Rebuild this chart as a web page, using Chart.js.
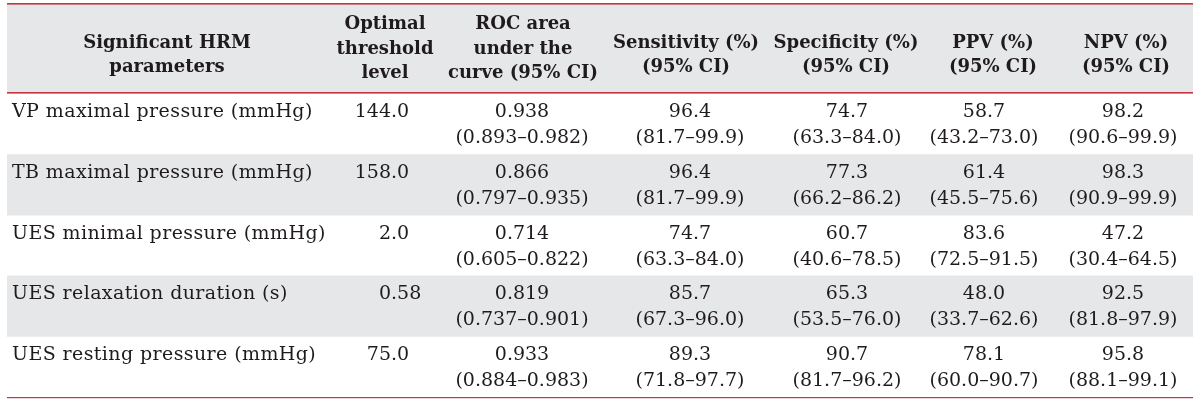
<!DOCTYPE html>
<html>
<head>
<meta charset="utf-8">
<title>Significant HRM parameters</title>
<script src="https://cdn.jsdelivr.net/npm/chart.js@4.4.1/dist/chart.umd.min.js"></script>
<style>
  html, body { margin: 0; padding: 0; background: #fff; }
  #wrap { width: 1200px; height: 403px; }
</style>
</head>
<body>
<div id="wrap"><canvas id="table-chart"></canvas></div>
<script>
// table data
const parameters = [
    'VP maximal pressure (mmHg)',
    'TB maximal pressure (mmHg)',
    'UES minimal pressure (mmHg)',
    'UES relaxation duration (s)',
    'UES resting pressure (mmHg)'
];
const thresholds = ['144.0', '158.0', '2.0', '0.58', '75.0'];
const rocArea = [0.938, 0.866, 0.714, 0.819, 0.933];
const rocCI = [[0.893, 0.982], [0.797, 0.935], [0.605, 0.822], [0.737, 0.901], [0.884, 0.983]];
const sensitivity = [96.4, 96.4, 74.7, 85.7, 89.3];
const sensitivityCI = [[81.7, 99.9], [81.7, 99.9], [63.3, 84.0], [67.3, 96.0], [71.8, 97.7]];
const specificity = [74.7, 77.3, 60.7, 65.3, 90.7];
const specificityCI = [[63.3, 84.0], [66.2, 86.2], [40.6, 78.5], [53.5, 76.0], [81.7, 96.2]];
const ppv = [58.7, 61.4, 83.6, 48.0, 78.1];
const ppvCI = [[43.2, 73.0], [45.5, 75.6], [72.5, 91.5], [33.7, 62.6], [60.0, 90.7]];
const npv = [98.2, 98.3, 47.2, 92.5, 95.8];
const npvCI = [[90.6, 99.9], [90.9, 99.9], [30.4, 64.5], [81.8, 97.9], [88.1, 99.1]];

const headers = [
    ['Significant HRM', 'parameters'],
    ['Optimal', 'threshold', 'level'],
    ['ROC area', 'under the', 'curve (95% CI)'],
    ['Sensitivity (%)', '(95% CI)'],
    ['Specificity (%)', '(95% CI)'],
    ['PPV (%)', '(95% CI)'],
    ['NPV (%)', '(95% CI)']
];

// layout (pixels along the x scale)
const TABLE_W = 1186;
const headX = [160, 378, 516, 679, 839, 986, 1119];
const cellX = [5, 384, 515, 683, 840, 977, 1116];
const RED = '#c4363d';
const GREY = '#e6e7e9';
const INK = '#1f1b1c';
const FONT = '"DejaVu Serif", "Liberation Serif", serif';

function ciText(ci, digits) {
    return '(' + ci[0].toFixed(digits) + '\u2013' + ci[1].toFixed(digits) + ')';
}

const tableText = {
    id: 'tableText',
    beforeDatasetsDraw(chart) {
        const ctx = chart.ctx;
        const x = chart.scales.x;
        const left = x.getPixelForValue(0), right = x.getPixelForValue(TABLE_W);
        ctx.save();
        ctx.fillStyle = GREY;
        ctx.fillRect(left, 4, right - left, 89);
        ctx.restore();
    },
    afterDatasetsDraw(chart) {
        const ctx = chart.ctx;
        const x = chart.scales.x, y = chart.scales.y;
        const left = x.getPixelForValue(0), right = x.getPixelForValue(TABLE_W);
        ctx.save();

        // rules
        ctx.fillStyle = RED;
        ctx.fillRect(left, 3, right - left, 1.6);
        ctx.fillRect(left, 92, right - left, 1.6);
        ctx.fillRect(left, 397, right - left, 1.2);

        // header
        ctx.fillStyle = INK;
        ctx.textAlign = 'center';
        ctx.textBaseline = 'alphabetic';
        ctx.font = 'bold 18px ' + FONT;
        headers.forEach((lines, c) => {
            const base = lines.length === 3 ? [29, 54, 78] : [48, 72];
            lines.forEach((t, k) => ctx.fillText(t, x.getPixelForValue(headX[c]), base[k]));
        });

        // body
        ctx.font = '19px ' + FONT;
        parameters.forEach((p, i) => {
            const cy = y.getPixelForValue(i);
            const b1 = cy - 7, b2 = cy + 19;

            ctx.textAlign = 'left';
            ctx.letterSpacing = '0.4px';
            ctx.fillText(p, x.getPixelForValue(cellX[0]), b1);
            ctx.letterSpacing = '0px';

            // threshold, aligned on the decimal point
            const parts = thresholds[i].split('.');
            const dx = x.getPixelForValue(cellX[1]);
            ctx.textAlign = 'right';
            ctx.fillText(parts[0], dx, b1);
            ctx.textAlign = 'left';
            ctx.fillText('.' + parts[1], dx, b1);

            ctx.textAlign = 'center';
            const cols = [
                [rocArea[i].toFixed(3), ciText(rocCI[i], 3)],
                [sensitivity[i].toFixed(1), ciText(sensitivityCI[i], 1)],
                [specificity[i].toFixed(1), ciText(specificityCI[i], 1)],
                [ppv[i].toFixed(1), ciText(ppvCI[i], 1)],
                [npv[i].toFixed(1), ciText(npvCI[i], 1)]
            ];
            cols.forEach((cell, k) => {
                const cx = x.getPixelForValue(cellX[k + 2]);
                ctx.fillText(cell[0], cx, b1);
                ctx.fillText(cell[1], cx, b2);
            });
        });
        ctx.restore();
    }
};

const ctx = document.getElementById('table-chart').getContext('2d');
new Chart(ctx, {
    type: 'bar',
    data: {
        labels: parameters,
        datasets: [{
            label: 'stripes',
            data: parameters.map((p, i) => (i % 2 === 1 ? [0, TABLE_W] : null)),
            backgroundColor: GREY,
            borderWidth: 0,
            barPercentage: 1,
            categoryPercentage: 1
        }]
    },
    options: {
        indexAxis: 'y',
        responsive: true,
        maintainAspectRatio: false,
        animation: false,
        layout: { padding: { left: 7, right: 7, top: 94, bottom: 6 } },
        plugins: { legend: { display: false }, tooltip: { enabled: false } },
        scales: {
            x: { type: 'linear', min: 0, max: TABLE_W, display: false },
            y: { type: 'category', display: false, grid: { display: false } }
        }
    },
    plugins: [tableText]
});
</script>
</body>
</html>
